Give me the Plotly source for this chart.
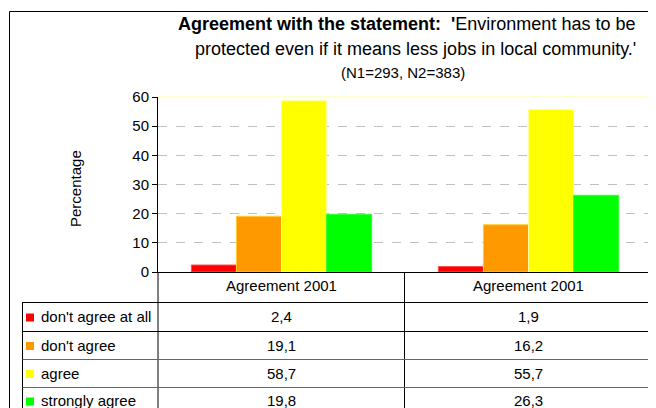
import plotly.graph_objects as go

# dados
columns = ["Agreement 2001", "Agreement 2001"]
answers = ["don't agree at all", "don't agree", "agree", "strongly agree"]
dont_agree_at_all = [2.4, 1.9]
dont_agree = [19.1, 16.2]
agree = [58.7, 55.7]
strongly_agree = [19.8, 26.3]
series = [dont_agree_at_all, dont_agree, agree, strongly_agree]

colors = ['#FF0000', '#FF9900', '#FFFF00', '#00FF00']
edge_colors = ['#FF5050', '#FFCC33', '#FFFF99', '#33FF33']

OFF = 8  # page body margin
W, H = 656 - OFF, 408 - OFF
L, R, T, B = 158, 652, 97, 272  # plot area, page pixels


def px(x):
    return (x - L) / (R - L)


def py(y):
    return (B - y) / (B - T)


fig = go.Figure()

for name, vals, c, ec in zip(answers, series, colors, edge_colors):
    fig.add_trace(go.Bar(
        x=list(range(len(columns))),
        y=vals,
        name=name,
        marker=dict(color=c, line=dict(color=ec, width=1)),
        showlegend=False,
    ))

shapes = []
line = dict(color='black', width=1)
grey = dict(color='#666666', width=1)

# moldura externa
shapes.append(dict(type='rect', xref='paper', yref='paper',
                   x0=px(9.5), x1=px(700), y0=py(11.5), y1=py(450),
                   line=line, layer='below'))
# borda do plot (amarelo claro)
shapes.append(dict(type='line', xref='paper', yref='paper',
                   x0=0, x1=1, y0=1, y1=1,
                   line=dict(color='#FFFFC0', width=1.5), layer='above'))
shapes.append(dict(type='line', xref='paper', yref='paper',
                   x0=1, x1=1, y0=0, y1=1,
                   line=dict(color='#FFFFC0', width=1.5), layer='above'))

# grade da tabela
col_div = (L + R) / 2 - 0.5
row_y = [302, 331, 359, 387]
shapes.append(dict(type='line', xref='paper', yref='paper',
                   x0=px(L), x1=px(L), y0=py(B), y1=py(420), line=line))
shapes.append(dict(type='line', xref='paper', yref='paper',
                   x0=px(col_div), x1=px(col_div), y0=py(B), y1=py(420), line=line))
shapes.append(dict(type='line', xref='paper', yref='paper',
                   x0=px(R - 0.5), x1=px(R - 0.5), y0=py(B), y1=py(420),
                   line=dict(color='#888888', width=2)))
shapes.append(dict(type='line', xref='paper', yref='paper',
                   x0=px(22.5), x1=px(22.5), y0=py(302), y1=py(420), line=line))
for i, ry in enumerate(row_y):
    shapes.append(dict(type='line', xref='paper', yref='paper',
                       x0=px(22.5), x1=px(R), y0=py(ry + 0.5), y1=py(ry + 0.5),
                       line=line if i < 2 else grey))

annotations = []

# legenda + valores
for i, (name, vals, c) in enumerate(zip(answers, series, colors)):
    yc = (row_y[i] + (row_y[i + 1] if i + 1 < len(row_y) else 414)) / 2
    shapes.append(dict(type='rect', xref='paper', yref='paper',
                       x0=px(26), x1=px(34), y0=py(yc - 3), y1=py(yc + 5),
                       fillcolor=c, line=dict(width=0)))
    annotations.append(dict(xref='paper', yref='paper', x=px(39), y=py(yc),
                            text=name, showarrow=False, xanchor='left', yanchor='middle',
                            font=dict(size=15)))
    for j, v in enumerate(vals):
        xc = (L + col_div) / 2 if j == 0 else (col_div + R) / 2
        annotations.append(dict(xref='paper', yref='paper', x=px(xc), y=py(yc),
                                text=f"{v:.1f}".replace('.', ','), showarrow=False,
                                xanchor='center', yanchor='middle', font=dict(size=15)))

# cabeçalho das colunas
for j, col in enumerate(columns):
    xc = (L + col_div) / 2 if j == 0 else (col_div + R) / 2
    annotations.append(dict(xref='paper', yref='paper', x=px(xc), y=py(285),
                            text=col, showarrow=False, xanchor='center', yanchor='middle',
                            font=dict(size=15)))

# titulo
annotations.append(dict(xref='paper', yref='paper', x=px(406), y=py(24),
                        text="<b>Agreement with the statement:  '</b>Environment has to be",
                        showarrow=False, xanchor='center', yanchor='middle',
                        font=dict(size=18)))
annotations.append(dict(xref='paper', yref='paper', x=px(415), y=py(49),
                        text="protected even if it means less jobs in local community.'",
                        showarrow=False, xanchor='center', yanchor='middle',
                        font=dict(size=18)))
annotations.append(dict(xref='paper', yref='paper', x=px(403), y=py(73),
                        text="(N1=293, N2=383)",
                        showarrow=False, xanchor='center', yanchor='middle',
                        font=dict(size=15)))
annotations.append(dict(xref='paper', yref='paper', x=px(75), y=py(189),
                        text="Percentage", textangle=-90,
                        showarrow=False, xanchor='center', yanchor='middle',
                        font=dict(size=15)))

fig.update_layout(
    width=W, height=H,
    margin=dict(l=L - OFF, r=W - (R - OFF), t=T - OFF, b=H - (B - OFF), pad=0),
    barmode='group',
    bargap=0.27,
    bargroupgap=0,
    font=dict(family='Liberation Sans, Arial, sans-serif', color='black'),
    plot_bgcolor='white',
    paper_bgcolor='white',
    xaxis=dict(range=[-0.5, 1.5], showticklabels=False, showgrid=False,
               zeroline=False, showline=True, linecolor='black', linewidth=1,
               ticks=''),
    yaxis=dict(range=[0, 60], dtick=10, tick0=0, ticks='outside', ticklen=5,
               tickcolor='black', showline=True, linecolor='black', linewidth=1,
               showgrid=True, gridcolor='#C0C0C0', griddash='dash', gridwidth=1,
               zeroline=False, tickfont=dict(size=15)),
    shapes=shapes,
    annotations=annotations,
)

fig.write_html("out.html")
